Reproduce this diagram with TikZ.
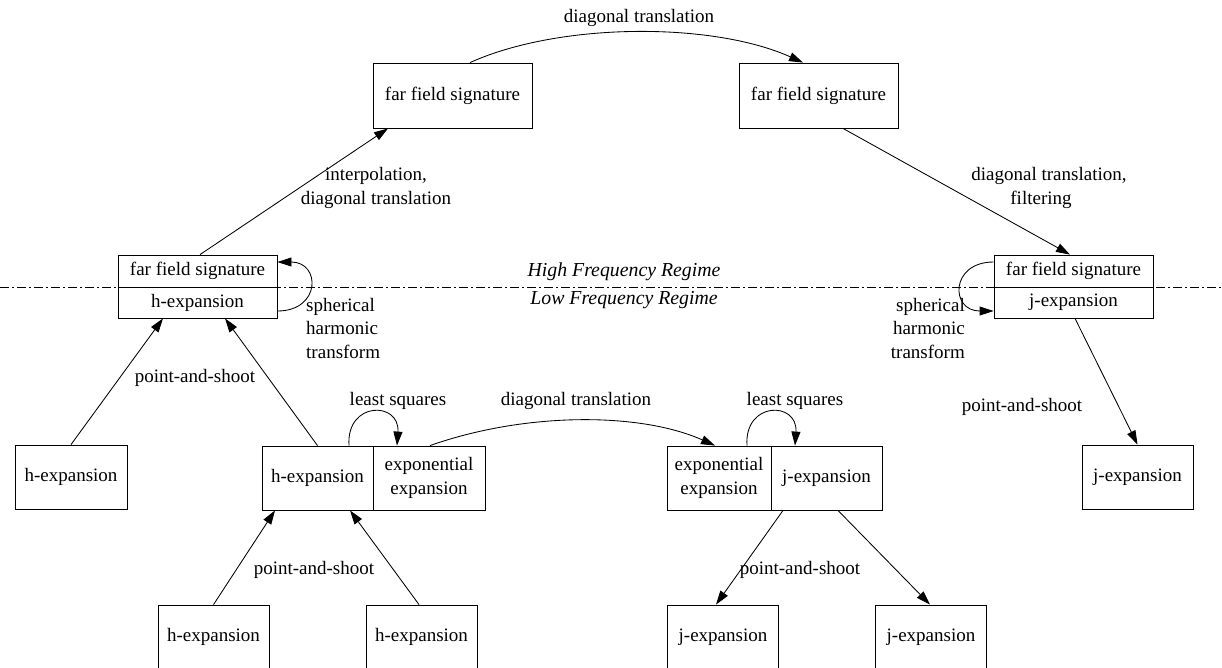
\documentclass[tikz,border=0pt]{standalone}
\usepackage{fontspec}
\setmainfont{Liberation Serif}
\usetikzlibrary{arrows.meta}
\tikzset{
  lbl/.style={font=\fontsize{19}{23.5}\selectfont, inner sep=0pt, align=center},
  boxn/.style={draw, line width=0.85pt, inner sep=0pt, font=\fontsize{19}{23.5}\selectfont, align=center, minimum height=64pt},
  arr/.style={line width=0.85pt, -{Triangle[length=14pt,width=9pt]}},
}
\begin{document}
\begin{tikzpicture}[x=1pt,y=-1pt]
\useasboundingbox (0,0) rectangle (1222,667);
% dash-dot regime line
\coordinate (dl) at (0,287);
\coordinate (dr) at (1222,287);
\draw[line width=0.8pt, dash pattern=on 9pt off 3pt on 2pt off 3pt] (dl) -- (dr);
\node[lbl, font=\fontsize{19.8}{23}\selectfont\itshape] (hfr) at (624,272) {High Frequency Regime};
\node[lbl, font=\fontsize{19.8}{23}\selectfont\itshape] (lfr) at (624,300) {Low Frequency Regime};

% top boxes
\node[boxn, minimum width=159pt, minimum height=65pt] (ffTL) at (452.5,95.5) {far field signature};
\node[boxn, minimum width=159pt, minimum height=65pt] (ffTR) at (818.5,95.5) {far field signature};

% left composite
\node[boxn, minimum width=159pt, minimum height=32pt] (LCt) at (197.5,271) {far field signature};
\node[boxn, minimum width=159pt, minimum height=31pt] (LCb) at (197.5,302.5) {h-expansion};
% right composite
\node[boxn, minimum width=159pt, minimum height=32pt] (RCt) at (1073.5,271) {far field signature};
\node[boxn, minimum width=159pt, minimum height=31pt] (RCb) at (1073.5,302.5) {j-expansion};

% middle row
\node[boxn, minimum width=112pt] (hL) at (71,477) {h-expansion};
\node[boxn, minimum width=111pt] (jR) at (1137.5,477) {j-expansion};
\node[boxn, minimum width=111pt] (MLa) at (317.5,478) {h-expansion};
\node[boxn, minimum width=112pt] (MLb) at (429,478) {exponential\\expansion};
\node[boxn, minimum width=104pt] (MRa) at (719,478) {exponential\\expansion};
\node[boxn, minimum width=111pt] (MRb) at (826.5,478) {j-expansion};

% bottom row
\node[boxn, minimum width=111pt] (B1) at (213.5,637) {h-expansion};
\node[boxn, minimum width=111pt] (B2) at (421.5,637) {h-expansion};
\node[boxn, minimum width=111pt] (B3) at (723,637) {j-expansion};
\node[boxn, minimum width=111pt] (B4) at (931,637) {j-expansion};

% edges
\draw[arr] ([xshift=17.5pt]ffTL.north) .. controls (560,22) and (713,22) .. ([xshift=-15.5pt]ffTR.north);
\draw[arr] ([xshift=2.5pt]LCt.north) -- ([xshift=-64.5pt]ffTL.south);
\draw[arr] ([xshift=24.5pt]ffTR.south) -- ([xshift=-3.5pt]RCt.north);
\draw[arr] (hL.north) -- ([xshift=-34.5pt]LCb.south);
\draw[arr] (MLa.north) -- ([xshift=27.5pt]LCb.south);
\draw[arr] ([xshift=1.5pt]RCb.south) -- (jR.north);

% self loops spherical harmonic transform
\draw[arr] ([yshift=-8.5pt]LCb.east) .. controls (321,311) and (321,262) .. ([yshift=9pt]LCt.east);
\draw[arr] ([yshift=9pt]RCt.west) .. controls (950,262) and (950,311) .. ([yshift=-8.5pt]RCb.west);

% least squares loops
\draw[arr] ([xshift=31.5pt]MLa.north) .. controls (346,401) and (400,401) .. ([xshift=-32pt]MLb.north);
\draw[arr] ([xshift=28pt]MRa.north) .. controls (744,401) and (798,401) .. ([xshift=-31.5pt]MRb.north);

% middle diagonal translation
\draw[arr] ([xshift=1pt]MLb.north) .. controls (525,412) and (640,412) .. ([xshift=-4pt]MRa.north);

% bottom edges
\draw[arr] (B1.north) -- ([xshift=-42.5pt]MLa.south);
\draw[arr] ([xshift=-2.5pt]B2.north) -- ([xshift=32.5pt]MLa.south);
\draw[arr] ([xshift=-43.5pt]MRb.south) -- ([xshift=-7pt]B3.north);
\draw[arr] ([xshift=11.5pt]MRb.south) -- ([xshift=-1pt]B4.north);

% labels
\node[lbl] (l1) at (639,18) {diagonal translation};
\node[lbl] (l2) at (376,188) {interpolation,\\diagonal translation};
\node[lbl] (l3) at (1049,188) {diagonal translation,\\filtering\hspace*{16pt}};
\node[lbl, align=left, anchor=west] (l4) at (306,328) {spherical\\harmonic\\transform};
\node[lbl, align=right, anchor=east] (l5) at (965,328) {spherical\\harmonic\\transform};
\node[lbl] (l6) at (195,378) {point-and-shoot};
\node[lbl] (l7) at (398,401) {least squares};
\node[lbl] (l8) at (576,401) {diagonal translation};
\node[lbl] (l9) at (795,401) {least squares};
\node[lbl] (l10) at (1022,407) {point-and-shoot};
\node[lbl] (l11) at (314,570) {point-and-shoot};
\node[lbl] (l12) at (800,570) {point-and-shoot};
\end{tikzpicture}
\end{document}
